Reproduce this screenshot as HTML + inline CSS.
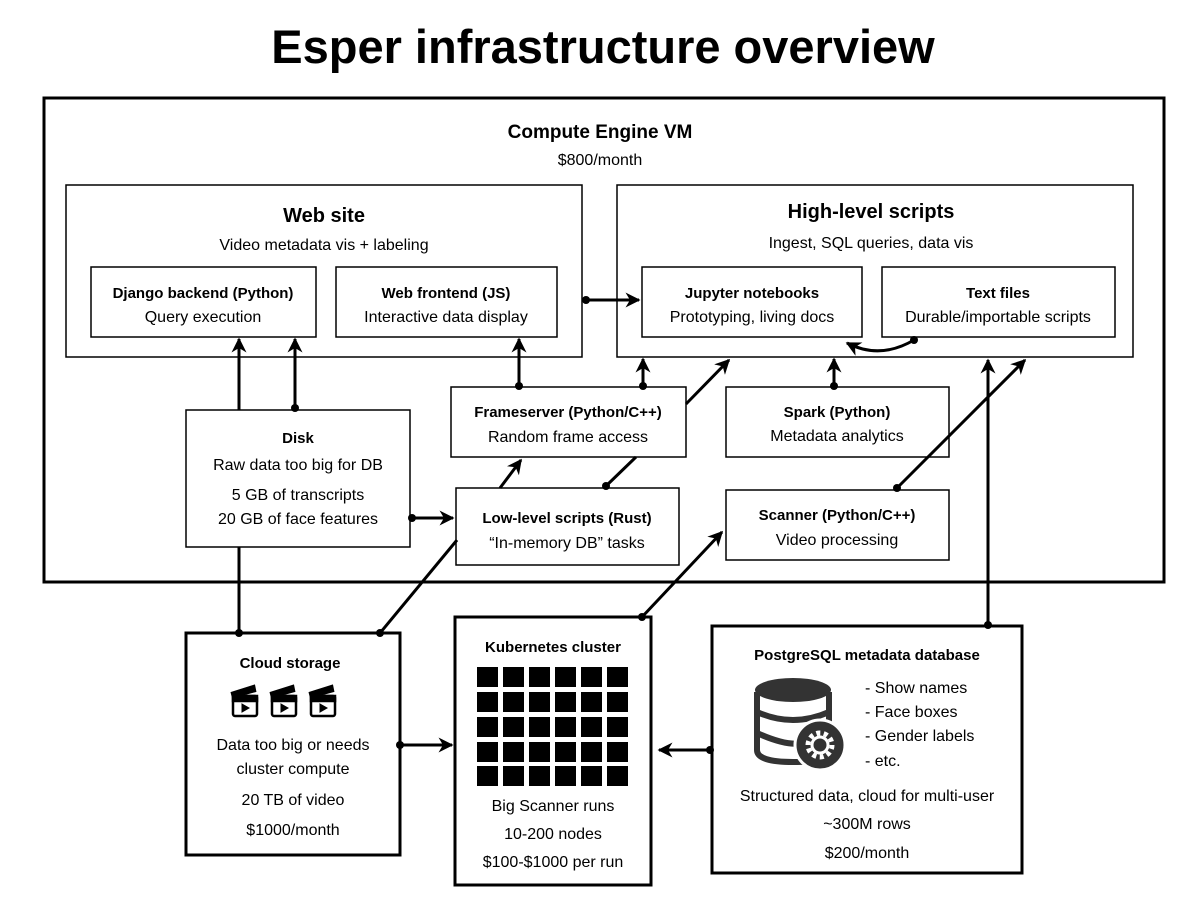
<!DOCTYPE html>
<html><head><meta charset="utf-8"><style>
body{margin:0;background:#fff}
svg text{font-family:"Liberation Sans",sans-serif;fill:#000}
.b{font-weight:bold}
</style></head><body>
<svg width="1200" height="896" viewBox="0 0 1200 896" xmlns="http://www.w3.org/2000/svg">
<defs>
<marker id="a" viewBox="0 0 10 10" refX="9" refY="5" markerWidth="5" markerHeight="5" orient="auto-start-reverse"><path d="M0,0 L10,5 L0,10 L3,5 z" fill="#000"/></marker>
</defs>
<text x="603" y="63" text-anchor="middle" class="b" font-size="47">Esper infrastructure overview</text>
<g fill="none" stroke="#000">
<rect x="44" y="98" width="1120" height="484" stroke-width="3"/>
<rect x="66" y="185" width="516" height="172" stroke-width="1.5"/>
<rect x="91" y="267" width="225" height="70" stroke-width="1.5"/>
<rect x="336" y="267" width="221" height="70" stroke-width="1.5"/>
<rect x="617" y="185" width="516" height="172" stroke-width="1.5"/>
<rect x="642" y="267" width="220" height="70" stroke-width="1.5"/>
<rect x="882" y="267" width="233" height="70" stroke-width="1.5"/>
<rect x="186" y="410" width="224" height="137" stroke-width="1.5"/>
<rect x="451" y="387" width="235" height="70" stroke-width="1.5"/>
<rect x="726" y="387" width="223" height="70" stroke-width="1.5"/>
<rect x="456" y="488" width="223" height="77" stroke-width="1.5"/>
<rect x="726" y="490" width="223" height="70" stroke-width="1.5"/>
<rect x="186" y="633" width="214" height="222" stroke-width="3"/>
<rect x="455" y="617" width="196" height="268" stroke-width="3"/>
<rect x="712" y="626" width="310" height="247" stroke-width="3"/>
</g>
<g font-size="16" text-anchor="middle">
<text x="600" y="138" class="b" font-size="19">Compute Engine VM</text>
<text x="600" y="165">$800/month</text>
<text x="324" y="222" class="b" font-size="20">Web site</text>
<text x="324" y="250">Video metadata vis + labeling</text>
<text x="203" y="298" class="b" font-size="15">Django backend (Python)</text>
<text x="203" y="322">Query execution</text>
<text x="446" y="298" class="b" font-size="15">Web frontend (JS)</text>
<text x="446" y="322">Interactive data display</text>
<text x="871" y="218" class="b" font-size="20">High-level scripts</text>
<text x="871" y="248">Ingest, SQL queries, data vis</text>
<text x="752" y="298" class="b" font-size="15">Jupyter notebooks</text>
<text x="752" y="322">Prototyping, living docs</text>
<text x="998" y="298" class="b" font-size="15">Text files</text>
<text x="998" y="322">Durable/importable scripts</text>
<text x="298" y="443" class="b" font-size="15">Disk</text>
<text x="298" y="470">Raw data too big for DB</text>
<text x="298" y="500">5 GB of transcripts</text>
<text x="298" y="524">20 GB of face features</text>
<text x="568" y="417" class="b" font-size="15">Frameserver (Python/C++)</text>
<text x="568" y="442">Random frame access</text>
<text x="837" y="417" class="b" font-size="15">Spark (Python)</text>
<text x="837" y="441">Metadata analytics</text>
<text x="567" y="523" class="b" font-size="15">Low-level scripts (Rust)</text>
<text x="567" y="548">“In-memory DB” tasks</text>
<text x="837" y="520" class="b" font-size="15">Scanner (Python/C++)</text>
<text x="837" y="545">Video processing</text>
<text x="290" y="668" class="b" font-size="15">Cloud storage</text>
<text x="293" y="750">Data too big or needs</text>
<text x="293" y="774">cluster compute</text>
<text x="293" y="805">20 TB of video</text>
<text x="293" y="835">$1000/month</text>
<text x="553" y="652" class="b" font-size="15">Kubernetes cluster</text>
<text x="553" y="811">Big Scanner runs</text>
<text x="553" y="839">10-200 nodes</text>
<text x="553" y="867">$100-$1000 per run</text>
<text x="867" y="660" class="b" font-size="15">PostgreSQL metadata database</text>
<text x="867" y="801">Structured data, cloud for multi-user</text>
<text x="867" y="829">~300M rows</text>
<text x="867" y="858">$200/month</text>
</g>
<g font-size="16">
<text x="865" y="693">- Show names</text>
<text x="865" y="717">- Face boxes</text>
<text x="865" y="741">- Gender labels</text>
<text x="865" y="766">- etc.</text>
</g>
<!-- k8s grid -->
<g fill="#000">
<rect x="477" y="667" width="21" height="20"/><rect x="503" y="667" width="21" height="20"/><rect x="529" y="667" width="21" height="20"/><rect x="555" y="667" width="21" height="20"/><rect x="581" y="667" width="21" height="20"/><rect x="607" y="667" width="21" height="20"/>
<rect x="477" y="692" width="21" height="20"/><rect x="503" y="692" width="21" height="20"/><rect x="529" y="692" width="21" height="20"/><rect x="555" y="692" width="21" height="20"/><rect x="581" y="692" width="21" height="20"/><rect x="607" y="692" width="21" height="20"/>
<rect x="477" y="717" width="21" height="20"/><rect x="503" y="717" width="21" height="20"/><rect x="529" y="717" width="21" height="20"/><rect x="555" y="717" width="21" height="20"/><rect x="581" y="717" width="21" height="20"/><rect x="607" y="717" width="21" height="20"/>
<rect x="477" y="742" width="21" height="20"/><rect x="503" y="742" width="21" height="20"/><rect x="529" y="742" width="21" height="20"/><rect x="555" y="742" width="21" height="20"/><rect x="581" y="742" width="21" height="20"/><rect x="607" y="742" width="21" height="20"/>
<rect x="477" y="766" width="21" height="20"/><rect x="503" y="766" width="21" height="20"/><rect x="529" y="766" width="21" height="20"/><rect x="555" y="766" width="21" height="20"/><rect x="581" y="766" width="21" height="20"/><rect x="607" y="766" width="21" height="20"/>
</g>
<!-- clapper icons -->
<g stroke="#000" stroke-width="2.5" fill="#fff">
<g transform="translate(231,684)"><rect x="2" y="12" width="24" height="20" rx="2"/><path d="M2,12 L26,12 L26,17 L2,17z" fill="#000"/><path d="M1,9 L23,2 L24,7 L2,13z" fill="#000"/><path d="M11,20 L18,24 L11,28z" fill="#000" stroke-width="1"/></g>
<g transform="translate(270,684)"><rect x="2" y="12" width="24" height="20" rx="2"/><path d="M2,12 L26,12 L26,17 L2,17z" fill="#000"/><path d="M1,9 L23,2 L24,7 L2,13z" fill="#000"/><path d="M11,20 L18,24 L11,28z" fill="#000" stroke-width="1"/></g>
<g transform="translate(309,684)"><rect x="2" y="12" width="24" height="20" rx="2"/><path d="M2,12 L26,12 L26,17 L2,17z" fill="#000"/><path d="M1,9 L23,2 L24,7 L2,13z" fill="#000"/><path d="M11,20 L18,24 L11,28z" fill="#000" stroke-width="1"/></g>
</g>
<!-- DB icon -->
<g fill="none" stroke="#333" stroke-width="6">
<path d="M757,692 L757,750 Q757,762 793,762 Q812,762 820,759"/>
<path d="M829,692 L829,722"/>
<path d="M757,712 Q793,728 829,712"/>
<path d="M757,733 Q790,748 806,742"/>
</g>
<ellipse cx="793" cy="690" rx="38" ry="12" fill="#333"/>
<circle cx="820" cy="745" r="25" fill="#333" stroke="#fff" stroke-width="3"/>
<circle cx="820" cy="745" r="12" fill="none" stroke="#fff" stroke-width="5" stroke-dasharray="4 3.5"/>
<circle cx="820" cy="745" r="8" fill="none" stroke="#fff" stroke-width="3"/>
<!-- connectors -->
<g stroke="#000" stroke-width="3" fill="none">
<line x1="239" y1="410" x2="239" y2="339" marker-end="url(#a)"/>
<line x1="295" y1="408" x2="295" y2="339" marker-end="url(#a)"/>
<line x1="519" y1="386" x2="519" y2="339" marker-end="url(#a)"/>
<line x1="643" y1="386" x2="643" y2="359" marker-end="url(#a)"/>
<line x1="834" y1="386" x2="834" y2="359" marker-end="url(#a)"/>
<line x1="586" y1="300" x2="639" y2="300" marker-end="url(#a)"/>
<path d="M914,340 Q880,360 847,343" marker-end="url(#a)"/>
<line x1="686" y1="404" x2="729" y2="360" marker-end="url(#a)"/>
<line x1="500" y1="488" x2="521" y2="460" marker-end="url(#a)"/>
<line x1="606" y1="486" x2="636" y2="457"/>
<line x1="412" y1="518" x2="453" y2="518" marker-end="url(#a)"/>
<line x1="380" y1="633" x2="457" y2="540"/>
<line x1="897" y1="488" x2="1025" y2="360" marker-end="url(#a)"/>
<line x1="642" y1="617" x2="722" y2="532" marker-end="url(#a)"/>
<line x1="988" y1="625" x2="988" y2="360" marker-end="url(#a)"/>
<line x1="239" y1="547" x2="239" y2="633"/>
<line x1="400" y1="745" x2="452" y2="745" marker-end="url(#a)"/>
<line x1="710" y1="750" x2="659" y2="750" marker-end="url(#a)"/>
</g>
<g fill="#000">
<circle cx="295" cy="408" r="4"/><circle cx="519" cy="386" r="4"/><circle cx="643" cy="386" r="4"/><circle cx="834" cy="386" r="4"/>
<circle cx="586" cy="300" r="4"/><circle cx="914" cy="340" r="4"/><circle cx="606" cy="486" r="4"/><circle cx="412" cy="518" r="4"/>
<circle cx="380" cy="633" r="4"/><circle cx="897" cy="488" r="4"/><circle cx="642" cy="617" r="4"/><circle cx="988" cy="625" r="4"/>
<circle cx="239" cy="633" r="4"/><circle cx="400" cy="745" r="4"/><circle cx="710" cy="750" r="4"/>
</g>
</svg>
</body></html>
